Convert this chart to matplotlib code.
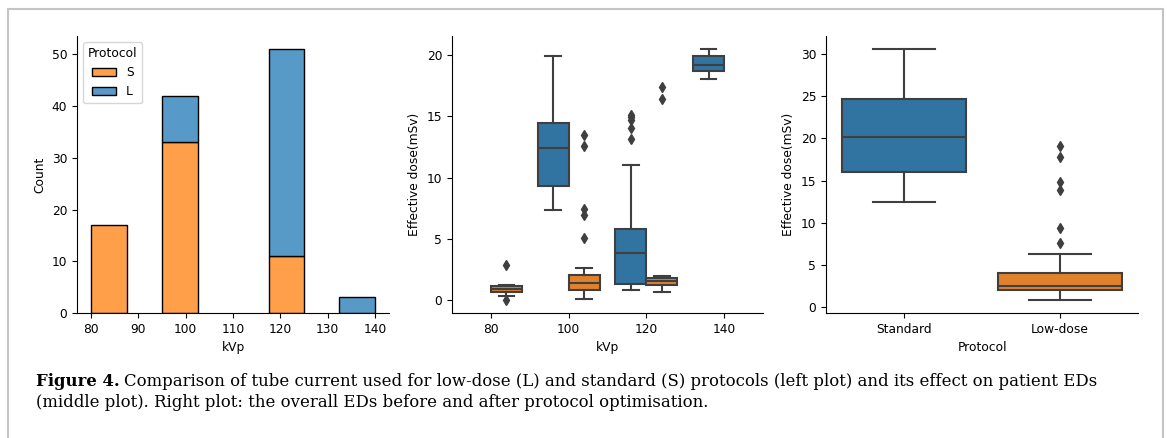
import numpy as np
import matplotlib
matplotlib.use("Agg")
import matplotlib.pyplot as plt
from matplotlib.patches import Patch, Rectangle

# ---- data ----
kvp_bins = [80, 87.5, 95, 102.5, 110, 117.5, 125, 132.5, 140]
count_S = [17, 0, 33, 0, 0, 11, 0, 0]
count_L = [0, 0, 9, 0, 0, 40, 0, 3]

kvp_labels = ["80", "100", "120", "140"]
# effective dose box stats per kVp: (q1, median, q3, whisker low, whisker high, fliers)
ed_L = [None,
        (9.32, 12.40, 14.44, 7.33, 19.86, []),
        (1.31, 3.84, 5.78, 0.87, 11.0, [15.07, 14.9, 14.71, 14.06, 13.13]),
        (18.64, 19.16, 19.89, 18.04, 20.49, [])]
ed_S = [(0.71, 0.90, 1.14, 0.33, 1.28, [0.0, 2.92]),
        (0.82, 1.44, 2.10, 0.08, 2.67, [13.49, 12.56, 7.41, 6.92, 5.07]),
        (1.25, 1.61, 1.85, 0.71, 1.99, [17.36, 16.38]),
        None]

protocols = ["Standard", "Low-dose"]
ed_overall = [(16.0, 20.13, 24.75, 12.49, 30.68, []),
              (1.95, 2.43, 4.02, 0.76, 6.33, [19.1, 17.79, 14.8, 13.93, 9.31, 7.6])]

caption_bold = 'Figure 4.'
caption_1 = ('Comparison of tube current used for low-dose (L) and standard (S) protocols '
             '(left plot) and its effect on patient EDs')
caption_2 = '(middle plot). Right plot: the overall EDs before and after protocol optimisation.'

# ---- style ----
plt.rcParams['font.family'] = 'DejaVu Sans'
plt.rcParams['font.size'] = 8.8
hist_S, hist_L = '#ff9f4a', '#5799c7'
box_L, box_S = '#3274a1', '#e1812c'
line_c = '#3f3f3f'


def stats(t):
    q1, med, q3, lo, hi, fl = t
    return dict(q1=q1, med=med, q3=q3, whislo=lo, whishi=hi, fliers=fl)


def draw_boxes(ax, items, positions, width, colors):
    props = dict(color=line_c, linewidth=1.5)
    b = ax.bxp([stats(t) for t in items], positions=positions, widths=width,
               patch_artist=True, showfliers=True, manage_ticks=False,
               boxprops=dict(edgecolor=line_c, linewidth=1.5),
               whiskerprops=props, capprops=props, medianprops=props,
               flierprops=dict(marker='d', markersize=5, markerfacecolor=line_c,
                               markeredgecolor=line_c, linestyle='none'))
    for patch, c in zip(b['boxes'], colors):
        patch.set_facecolor(c)


fig = plt.figure(figsize=(11.67, 4.38), dpi=100)

# ---- left: stacked histogram ----
ax1 = fig.add_axes([0.066, 0.2854, 0.2674, 0.6324])
edges = np.array(kvp_bins)
w = np.diff(edges)
cs = np.array(count_S)
cl = np.array(count_L)
m = cs > 0
ax1.bar(edges[:-1][m], cs[m], width=w[m], align='edge', color=hist_S,
        edgecolor='black', linewidth=1)
m = cl > 0
ax1.bar(edges[:-1][m], cl[m], width=w[m], bottom=cs[m], align='edge',
        color=hist_L, edgecolor='black', linewidth=1)
ax1.set_xlim(77, 143)
ax1.set_xticks(range(80, 141, 10))
ax1.set_xlabel('kVp')
ax1.set_ylabel('Count')
ax1.legend(handles=[Patch(facecolor=hist_S, edgecolor='black', label='S'),
                    Patch(facecolor=hist_L, edgecolor='black', label='L')],
           title='Protocol', loc='upper left', fontsize=8.8, title_fontsize=8.8)

# ---- middle: boxplots by kVp and protocol ----
ax2 = fig.add_axes([0.3873, 0.2854, 0.2665, 0.6324])
items, pos, cols = [], [], []
for i in range(len(kvp_labels)):
    if ed_L[i] is not None:
        items.append(ed_L[i]); pos.append(i - 0.2); cols.append(box_L)
    if ed_S[i] is not None:
        items.append(ed_S[i]); pos.append(i + 0.2); cols.append(box_S)
draw_boxes(ax2, items, pos, 0.4, cols)
ax2.set_xticks(range(len(kvp_labels)))
ax2.set_xticklabels(kvp_labels)
ax2.set_xlim(-0.5, len(kvp_labels) - 0.5)
ax2.set_xlabel('kVp')
ax2.set_ylabel('Effective dose(mSv)')

# ---- right: overall boxplot ----
ax3 = fig.add_axes([0.7078, 0.2854, 0.2674, 0.6324])
draw_boxes(ax3, ed_overall, [0, 1], 0.8, [box_L, box_S])
ax3.set_xticks([0, 1])
ax3.set_xticklabels(protocols)
ax3.set_xlim(-0.5, 1.5)
ax3.set_xlabel('Protocol')
ax3.set_ylabel('Effective dose(mSv)')

for ax in (ax1, ax2, ax3):
    ax.spines['top'].set_visible(False)
    ax.spines['right'].set_visible(False)

# ---- frame and caption ----
fig.patches.append(Rectangle((7.5 / 1167, -0.1), (1162.5 - 7.5) / 1167, 1 - 8.5 / 438 + 0.1,
                             transform=fig.transFigure, fill=False,
                             edgecolor='#c4c4c4', linewidth=1.5))

W = fig.bbox.width
x0 = 36 / 1167
y1 = 1 - 386 / 438
y2 = 1 - 407 / 438
r = fig.canvas.get_renderer()
size = 11.0
t0 = fig.text(x0, y1, caption_bold, fontweight='bold', va='baseline',
              family='DejaVu Serif', size=size)
t1 = fig.text(0, y1, caption_1, va='baseline', family='DejaVu Serif', size=size)
t2 = fig.text(x0, y2, caption_2, va='baseline', family='DejaVu Serif', size=size)
# fit the first caption line to the width it has in the reference
for _ in range(3):
    for t in (t0, t1, t2):
        t.set_fontsize(size)
    bb = t0.get_window_extent(renderer=r)
    t1.set_x((bb.x1 + 4) / W)
    end = t1.get_window_extent(renderer=r).x1
    size = size * (1098 - 36) / (end - 36)

fig.savefig('out.png', dpi=100)
